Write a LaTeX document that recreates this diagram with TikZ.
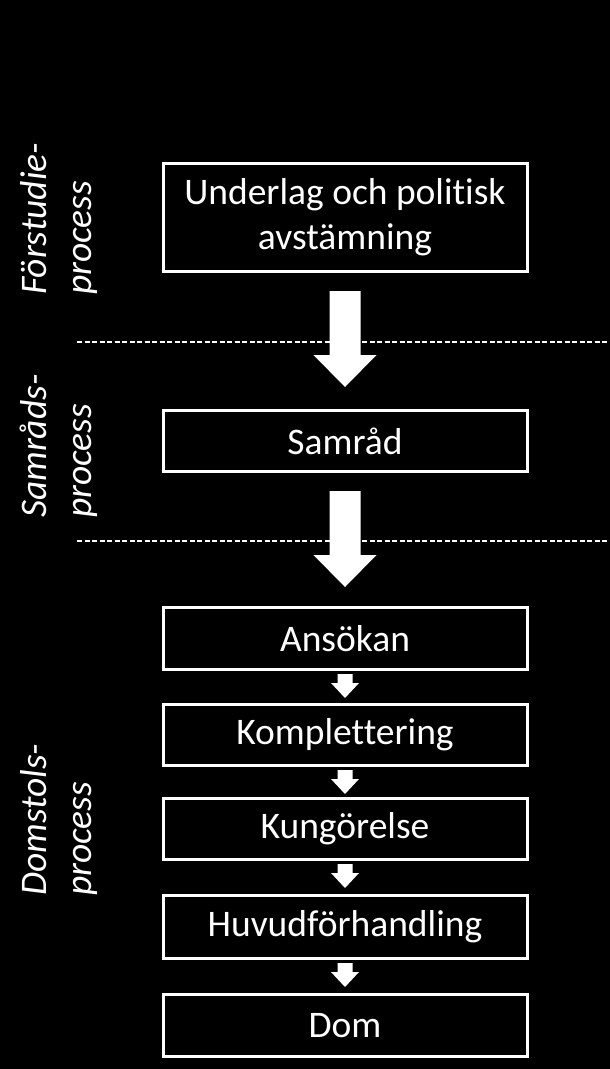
\documentclass[tikz,border=0pt]{standalone}
\usepackage{fontspec}
\setmainfont[Ligatures=NoCommon]{Carlito}
\usetikzlibrary{calc}
\newcommand\flowbig[1]{%
  \fill[white] ($(#1.south)+(-15.5,18)$) -- ($(#1.south)+(15.5,18)$) -- ($(#1.south)+(15.5,82)$) -- ($(#1.south)+(31.5,82)$) -- ($(#1.south)+(0,114)$) -- ($(#1.south)+(-31.5,82)$) -- ($(#1.south)+(-15.5,82)$) -- cycle;}
\newcommand\flowsmall[1]{%
  \fill[white] ($(#1.south)+(-7.5,3)$) -- ($(#1.south)+(7.5,3)$) -- ($(#1.south)+(7.5,12)$) -- ($(#1.south)+(14,12)$) -- ($(#1.south)+(0,27)$) -- ($(#1.south)+(-14,12)$) -- ($(#1.south)+(-7.5,12)$) -- cycle;}
\begin{document}
\begin{tikzpicture}[x=1pt,y=-1pt,
  box/.style={draw=white, line width=3pt, minimum width=364pt, text=white, align=center, inner sep=0pt, font=\fontsize{37.5}{45}\selectfont},
  lab/.style={text=white, rotate=90, anchor=base west, inner sep=0pt, font=\fontsize{37.5}{45}\selectfont\itshape},
  sep/.style={draw=white, line width=1.1pt, dash pattern=on 5pt off 2.5pt}]
\fill[black] (0,0) rectangle (610,1069);
\useasboundingbox (0,0) rectangle (610,1069);
% separators
\coordinate (s1a) at (77,342); \coordinate (s1b) at (610,342);
\coordinate (s2a) at (77,541); \coordinate (s2b) at (610,541);
\draw[sep] (s1a) -- (s1b);
\draw[sep] (s2a) -- (s2b);
% boxes
\node[box, minimum height=108pt] (b1) at (345,217.5) {Underlag och politisk\\avstämning};
\node[box, minimum height=61pt] (b2) at (345,441) {Samråd};
\node[box, minimum height=62pt] (b3) at (345,638.5) {Ansökan};
\node[box, minimum height=61pt] (b4) at (345,735) {Komplettering};
\node[box, minimum height=61pt] (b5) at (345,829) {Kungörelse};
\node[box, minimum height=63pt] (b6) at (345,927) {Huvudförhandling};
\node[box, minimum height=62pt] (b7) at (345,1025.5) {Dom};
% arrows
\flowbig{b1}
\flowbig{b2}
\flowsmall{b3}
\flowsmall{b4}
\flowsmall{b5}
\flowsmall{b6}
% labels
\node[lab] (l1a) at (46,295) {Förstudie-};
\node[lab] (l1b) at (91,295) {process};
\node[lab] (l2a) at (46,518) {Samråds-};
\node[lab] (l2b) at (91,518) {process};
\node[lab] (l3a) at (46,896) {Domstols-};
\node[lab] (l3b) at (91,896) {process};
\end{tikzpicture}
\end{document}
